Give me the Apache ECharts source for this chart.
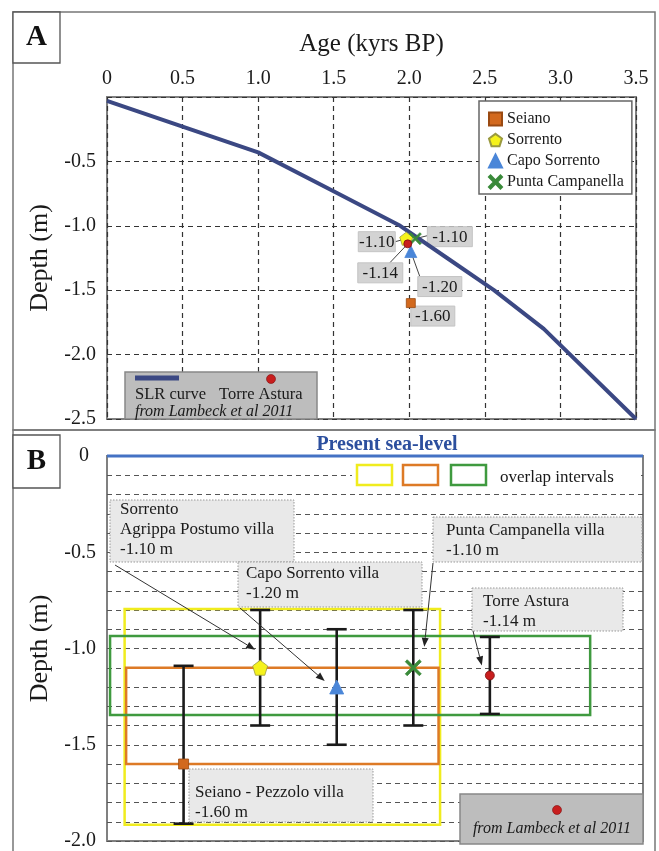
<!DOCTYPE html>
<html><head><meta charset="utf-8">
<script src="https://cdn.jsdelivr.net/npm/echarts@6/dist/echarts.min.js"></script>
<style>html,body{margin:0;padding:0;background:#fff}#c{width:659px;height:851px}</style>
</head><body><div id="c"></div>
<script>
const FONT = '"Liberation Serif", "Times New Roman", serif';

// ---- Panel A : SLR curve (Lambeck et al 2011) ----
const slrAge   = [0, 0.5, 1.0, 1.48, 1.94, 2.25, 2.56, 2.89, 3.5];
const slrDepth = [-0.03, -0.23, -0.43, -0.72, -1.0, -1.25, -1.5, -1.80, -2.5];

// ---- sites ----
const siteNames  = ['Seiano', 'Sorrento', 'Capo Sorrento', 'Punta Campanella', 'Torre Astura'];
const siteAgeA   = [2.01, 1.98, 2.01, 2.04, 1.99];
const siteDepth  = [-1.60, -1.10, -1.20, -1.10, -1.14];

// ---- Panel B : error bars ----
const sitePosB   = [1, 2, 3, 4, 5];
const errTop     = [-1.09, -0.80, -0.90, -0.80, -0.94];
const errBottom  = [-1.91, -1.40, -1.50, -1.40, -1.34];
const siteLabelB = ['Seiano - Pezzolo villa', 'Sorrento\nAgrippa Postumo villa', 'Capo Sorrento villa', 'Punta Campanella villa', 'Torre Astura'];

// ---- overlap intervals (yellow, orange, green) ----
const overlapX0     = [0.23, 0.25, 0.04];
const overlapX1     = [4.35, 4.33, 6.31];
const overlapTop    = [-0.795, -1.10, -0.935];
const overlapBottom = [-1.915, -1.60, -1.345];

// ---- tick labels ----
const ageTicks   = [0, 0.5, 1.0, 1.5, 2.0, 2.5, 3.0, 3.5];
const ageLabels  = ['0', '0.5', '1.0', '1.5', '2.0', '2.5', '3.0', '3.5'];
const depthTicksA  = [-0.5, -1.0, -1.5, -2.0, -2.5];
const depthLabelsA = ['-0.5', '-1.0', '-1.5', '-2.0', '-2.5'];
const depthTicksB  = [0, -0.5, -1.0, -1.5, -2.0];
const depthLabelsB = ['0', '-0.5', '-1.0', '-1.5', '-2.0'];

// ---- styles ----
const PENT = 'path://M50,0 L97.6,34.5 L79.4,90.5 L20.6,90.5 L2.4,34.5 Z';
const XSYM = 'path://M0,12 L12,0 L50,38 L88,0 L100,12 L62,50 L100,88 L88,100 L50,62 L12,100 L0,88 L38,50 Z';
const siteSymbol = ['rect', PENT, 'triangle', XSYM, 'circle'];
const siteColor  = ['#d2691e', '#f5f21c', '#4a86d8', '#3a8a3a', '#c81e1e'];
const siteBorder = ['#9a4a12', '#9a9a40', '#4a86d8', '#3a8a3a', '#7a1010'];
const sizeA = [9, 13, 12, 12, 8];
const sizeB = [10, 15, 14, 16, 9];
const overlapColors = ['#f0ec1e', '#dd7a26', '#3f9a3f'];
const TXT = '#1a1a1a';

function lookup(ticks, labels, v) {
  const r = Math.round(v * 100) / 100;
  const i = ticks.findIndex(t => Math.abs(t - r) < 1e-6);
  return i >= 0 ? labels[i] : '';
}

const chart = echarts.init(document.getElementById('c'), null, {renderer: 'canvas'});

const series = [];
series.push({
  name: 'SLR curve', type: 'line', xAxisIndex: 0, yAxisIndex: 0,
  data: slrAge.map((a, i) => [a, slrDepth[i]]),
  symbol: 'none', lineStyle: {color: '#3b4883', width: 4}, itemStyle: {color: '#3b4883'}, z: 3
});
siteNames.forEach((n, i) => {
  series.push({
    name: n, type: 'scatter', xAxisIndex: 0, yAxisIndex: 0,
    data: [[siteAgeA[i], siteDepth[i]]], symbol: siteSymbol[i], symbolSize: sizeA[i],
    itemStyle: {color: siteColor[i], borderColor: siteBorder[i], borderWidth: 0.8, opacity: 1}, z: 6
  });
});
series.push({
  name: 'errorbars', type: 'custom', xAxisIndex: 1, yAxisIndex: 1,
  data: sitePosB.map((x, i) => [x, errTop[i], errBottom[i]]),
  encode: {x: 0, y: [1, 2]},
  renderItem: function (params, api) {
    const x = api.value(0), t = api.value(1), b = api.value(2);
    const p1 = api.coord([x, t]), p2 = api.coord([x, b]);
    const w = 10, st = {stroke: '#1a1a1a', lineWidth: 2.6};
    return {type: 'group', children: [
      {type: 'line', shape: {x1: p1[0], y1: p1[1], x2: p2[0], y2: p2[1]}, style: st},
      {type: 'line', shape: {x1: p1[0] - w, y1: p1[1], x2: p1[0] + w, y2: p1[1]}, style: st},
      {type: 'line', shape: {x1: p2[0] - w, y1: p2[1], x2: p2[0] + w, y2: p2[1]}, style: st}
    ]};
  }, z: 4
});
series.push({
  name: 'Present sea-level', type: 'line', xAxisIndex: 1, yAxisIndex: 1,
  data: [[0, 0], [7, 0]], symbol: 'none', clip: false,
  lineStyle: {color: '#4472c4', width: 3}, z: 5,
  markArea: {silent: true, z: 2, data: overlapX0.map((x0, i) => [
    {coord: [x0, overlapTop[i]], itemStyle: {color: 'rgba(0,0,0,0)', borderColor: overlapColors[i], borderWidth: 2.5}},
    {coord: [overlapX1[i], overlapBottom[i]]}
  ])}
});
siteNames.forEach((n, i) => {
  series.push({
    name: n, type: 'scatter', xAxisIndex: 1, yAxisIndex: 1,
    data: [[sitePosB[i], siteDepth[i]]], symbol: siteSymbol[i], symbolSize: sizeB[i],
    itemStyle: {color: siteColor[i], borderColor: siteBorder[i], borderWidth: 0.8, opacity: 1}, z: 7
  });
});

const option = {
  animation: false,
  backgroundColor: '#fff',
  textStyle: {fontFamily: FONT},
  grid: [
    {left: 107, top: 97, width: 529, height: 322, show: true, borderColor: '#808080', borderWidth: 2, backgroundColor: 'transparent'},
    {left: 107, top: 456, width: 536, height: 388, show: true, borderColor: '#808080', borderWidth: 2, backgroundColor: 'transparent'}
  ],
  xAxis: [
    {gridIndex: 0, type: 'value', position: 'top', min: 0, max: 3.5, interval: 0.5,
     name: 'Age (kyrs BP)', nameLocation: 'middle', nameGap: 40,
     nameTextStyle: {fontFamily: FONT, fontSize: 25, color: TXT},
     axisLine: {show: false}, axisTick: {show: false},
     axisLabel: {fontFamily: FONT, fontSize: 20, color: TXT, margin: 8, formatter: v => lookup(ageTicks, ageLabels, v)},
     splitLine: {show: true, lineStyle: {color: '#333', type: [5, 4], width: 1.2}}},
    {gridIndex: 1, type: 'value', min: 0, max: 7, show: false, splitLine: {show: false}}
  ],
  yAxis: [
    {gridIndex: 0, type: 'value', min: -2.5, max: 0, interval: 0.5,
     name: 'Depth (m)', nameLocation: 'middle', nameGap: 50, nameRotate: 90,
     nameTextStyle: {fontFamily: FONT, fontSize: 26, color: TXT},
     axisLine: {show: false}, axisTick: {show: false},
     axisLabel: {fontFamily: FONT, fontSize: 20, color: TXT, margin: 11, formatter: v => lookup(depthTicksA, depthLabelsA, v)},
     splitLine: {show: true, lineStyle: {color: '#333', type: [5, 4], width: 1.2}}},
    {gridIndex: 1, type: 'value', min: -2.0, max: 0, interval: 0.1,
     name: 'Depth (m)', nameLocation: 'middle', nameGap: 50, nameRotate: 90,
     nameTextStyle: {fontFamily: FONT, fontSize: 26, color: TXT},
     axisLine: {show: false}, axisTick: {show: false},
     axisLabel: {fontFamily: FONT, fontSize: 20, color: TXT, margin: 11,
       formatter: v => { const s = lookup(depthTicksB, depthLabelsB, v); return s === '0' ? '{z|0}' : s; },
       rich: {z: {fontFamily: FONT, fontSize: 20, color: TXT, padding: [0, 7, 0, 0]}}},
     splitLine: {show: true, lineStyle: {color: '#555', type: [5, 4], width: 1.1}}}
  ],
  legend: {
    data: ['Seiano', 'Sorrento', 'Capo Sorrento', 'Punta Campanella'],
    orient: 'vertical', left: 479, top: 101, padding: [10, 8, 4, 9], itemGap: 5,
    itemWidth: 13, itemHeight: 13, selectedMode: false,
    backgroundColor: '#fff', borderColor: '#666', borderWidth: 1.5,
    textStyle: {fontFamily: FONT, fontSize: 16, color: TXT}
  },
  series: series
};
chart.setOption(option);

// ---------- annotations (layout in pixels, anchored to data marks) ----------
const pA = (x, y) => chart.convertToPixel({xAxisIndex: 0, yAxisIndex: 0}, [x, y]);
const pB = (x, y) => chart.convertToPixel({xAxisIndex: 1, yAxisIndex: 1}, [x, y]);

function arrowEls(x1, y1, x2, y2) {
  const ang = Math.atan2(y2 - y1, x2 - x1);
  const L = 9, W = 3.5;
  const bx = x2 - L * Math.cos(ang), by = y2 - L * Math.sin(ang);
  const px = -Math.sin(ang) * W, py = Math.cos(ang) * W;
  return [
    {type: 'line', shape: {x1: x1, y1: y1, x2: bx, y2: by}, style: {stroke: '#333', lineWidth: 1}, z: 20},
    {type: 'polygon', shape: {points: [[x2, y2], [bx + px, by + py], [bx - px, by - py]]}, style: {fill: '#222'}, z: 20}
  ];
}

const G = [];
// panel frames
G.push({type: 'rect', shape: {x: 13, y: 12, width: 642, height: 418}, style: {fill: 'none', stroke: '#777', lineWidth: 1.5}, z: 0});
G.push({type: 'rect', shape: {x: 13, y: 430, width: 642, height: 430}, style: {fill: 'none', stroke: '#777', lineWidth: 1.5}, z: 0});
G.push({type: 'rect', shape: {x: 13, y: 12, width: 47, height: 51}, style: {fill: '#fff', stroke: '#555', lineWidth: 1.3}, z: 10});
G.push({type: 'text', style: {text: 'A', x: 36.5, y: 38, align: 'center', verticalAlign: 'middle', font: 'bold 29px ' + FONT, fill: '#111'}, z: 11});
G.push({type: 'rect', shape: {x: 13, y: 435, width: 47, height: 53}, style: {fill: '#fff', stroke: '#555', lineWidth: 1.3}, z: 10});
G.push({type: 'text', style: {text: 'B', x: 36.5, y: 462, align: 'center', verticalAlign: 'middle', font: 'bold 29px ' + FONT, fill: '#111'}, z: 11});

// Panel A value labels
const labA = [
  {dx: 0, dy: 3, w: 44, anchor: null},
  {dx: -48, dy: -7, w: 37, anchor: [37, 10]},
  {dx: 7, dy: 25, w: 44, anchor: [2, 0]},
  {dx: 12, dy: -12, w: 45, anchor: [0, 9]},
  {dx: -50, dy: 19, w: 45, anchor: [32, 0]}
];
siteNames.forEach((n, i) => {
  const p = pA(siteAgeA[i], siteDepth[i]);
  const L = labA[i];
  const bx = p[0] + L.dx, by = p[1] + L.dy;
  if (L.anchor) {
    G.push({type: 'line', shape: {x1: p[0], y1: p[1], x2: bx + L.anchor[0], y2: by + L.anchor[1]}, style: {stroke: '#444', lineWidth: 1}, z: 1});
  }
  G.push({type: 'rect', shape: {x: bx, y: by, width: L.w, height: 20}, style: {fill: '#d3d3d3', stroke: '#c4c4c4', lineWidth: 1}, z: 1});
  G.push({type: 'text', style: {text: siteDepth[i].toFixed(2), x: bx + L.w / 2, y: by + 10.5, align: 'center', verticalAlign: 'middle', font: '17px ' + FONT, fill: TXT}, z: 1});
});

// Panel A bottom-left legend box
G.push({type: 'rect', shape: {x: 125, y: 372, width: 192, height: 47}, style: {fill: '#bdbdbd', stroke: '#888', lineWidth: 1.5}, z: 8});
G.push({type: 'line', shape: {x1: 135, y1: 378, x2: 179, y2: 378}, style: {stroke: '#3b4883', lineWidth: 5}, z: 9});
G.push({type: 'circle', shape: {cx: 271, cy: 379, r: 4.5}, style: {fill: '#c81e1e', stroke: '#7a1010', lineWidth: 0.6}, z: 9});
G.push({type: 'text', style: {text: 'SLR curve', x: 135, y: 395, verticalAlign: 'middle', font: '16.5px ' + FONT, fill: TXT}, z: 9});
G.push({type: 'text', style: {text: 'Torre Astura', x: 219, y: 395, verticalAlign: 'middle', font: '16.5px ' + FONT, fill: TXT}, z: 9});
G.push({type: 'text', style: {text: 'from Lambeck et al 2011', x: 135, y: 412, verticalAlign: 'middle', font: 'italic 16px ' + FONT, fill: TXT}, z: 9});

// Panel B header
G.push({type: 'text', style: {text: 'Present sea-level', x: 387, y: 445, align: 'center', verticalAlign: 'middle', font: 'bold 20px ' + FONT, fill: '#2c4f9e'}, z: 9});
G.push({type: 'rect', shape: {x: 352, y: 461, width: 289, height: 28}, style: {fill: '#fff'}, z: 8});
[[357, 465], [403, 465], [451, 465]].forEach((r, i) => {
  G.push({type: 'rect', shape: {x: r[0], y: r[1], width: 35, height: 20}, style: {fill: '#fff', stroke: overlapColors[i], lineWidth: 2.5}, z: 9});
});
G.push({type: 'text', style: {text: 'overlap intervals', x: 500, y: 478, verticalAlign: 'middle', font: '17px ' + FONT, fill: TXT}, z: 9});

// Panel B annotation boxes
const annB = [
  {box: [189, 769, 184, 53], txt: [195, 783], from: null},
  {box: [110, 500, 184, 62], txt: [120, 500], from: [115, 565], toOff: [-5, -18]},
  {box: [238, 562, 184, 45], txt: [246, 564], from: [240, 608], toOff: [-12, -6]},
  {box: [433, 517, 209, 45], txt: [446, 521], from: [433, 563], toOff: [11, -21]},
  {box: [472, 588, 151, 43], txt: [483, 592], from: [473, 631], toOff: [-8, -10]}
];
annB.forEach((a, i) => {
  G.push({type: 'rect', shape: {x: a.box[0], y: a.box[1], width: a.box[2], height: a.box[3]},
    style: {fill: '#e9e9e9', stroke: '#999', lineWidth: 1, lineDash: [1.5, 1.5]}, z: 12});
  G.push({type: 'text', style: {text: siteLabelB[i] + '\n' + siteDepth[i].toFixed(2) + ' m', x: a.txt[0], y: a.txt[1],
    verticalAlign: 'top', lineHeight: 20, font: '17px ' + FONT, fill: TXT}, z: 13});
  if (a.from) {
    const p = pB(sitePosB[i], siteDepth[i]);
    arrowEls(a.from[0], a.from[1], p[0] + a.toOff[0], p[1] + a.toOff[1]).forEach(e => G.push(e));
  }
});

// Panel B bottom-right box
G.push({type: 'rect', shape: {x: 460, y: 794, width: 183, height: 50}, style: {fill: '#bdbdbd', stroke: '#888', lineWidth: 1.5}, z: 12});
G.push({type: 'circle', shape: {cx: 557, cy: 810, r: 4.5}, style: {fill: '#c81e1e', stroke: '#7a1010', lineWidth: 0.6}, z: 13});
G.push({type: 'text', style: {text: 'from Lambeck et al 2011', x: 552, y: 829, align: 'center', verticalAlign: 'middle', font: 'italic 16px ' + FONT, fill: TXT}, z: 13});

chart.setOption({graphic: {elements: G}});
</script>
</body></html>
